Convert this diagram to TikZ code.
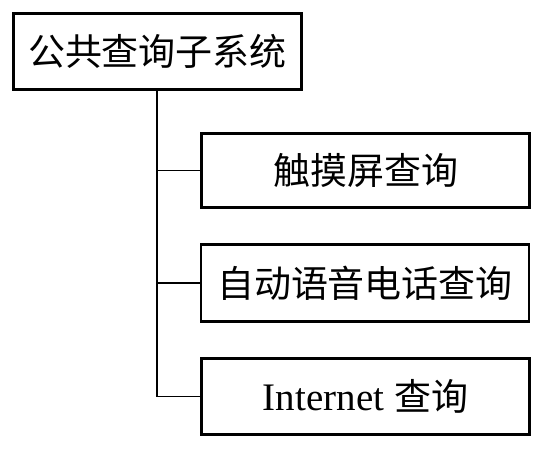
\documentclass[tikz,border=0pt]{standalone}
\usepackage{fontspec}
\setmainfont{Liberation Serif}
\newfontfamily\cjk{Noto Sans CJK SC}
\begin{document}
\begin{tikzpicture}[x=1pt,y=-1pt,
  box/.style={draw=black,line width=2.8pt,fill=white,inner sep=0pt,
    font=\fontsize{37}{42}\selectfont},
  link/.style={draw=black,line width=1.3pt}]
\useasboundingbox (0,0) rectangle (550,455);
\node[box,minimum width=288,minimum height=76] (top) at (157.5,51.5) {\cjk 公共查询子系统};
\node[box,minimum width=328,minimum height=74] (b1) at (365.5,170.5) {\cjk 触摸屏查询};
\node[box,minimum width=328,minimum height=77] (b2) at (365,283) {\cjk 自动语音电话查询};
\node[box,minimum width=328,minimum height=76] (b3) at (365.5,396.5) {\fontsize{39}{42}\selectfont Internet {\cjk\fontsize{37}{42}\selectfont 查询}};
\coordinate (j) at (157,396.5);
\draw[link] (top.south -| j) -- (j) -- (b3.west);
\draw[link] (b1.west) -- (b1.west -| j);
\draw[link] (b2.west) -- (b2.west -| j);
\end{tikzpicture}
\end{document}
